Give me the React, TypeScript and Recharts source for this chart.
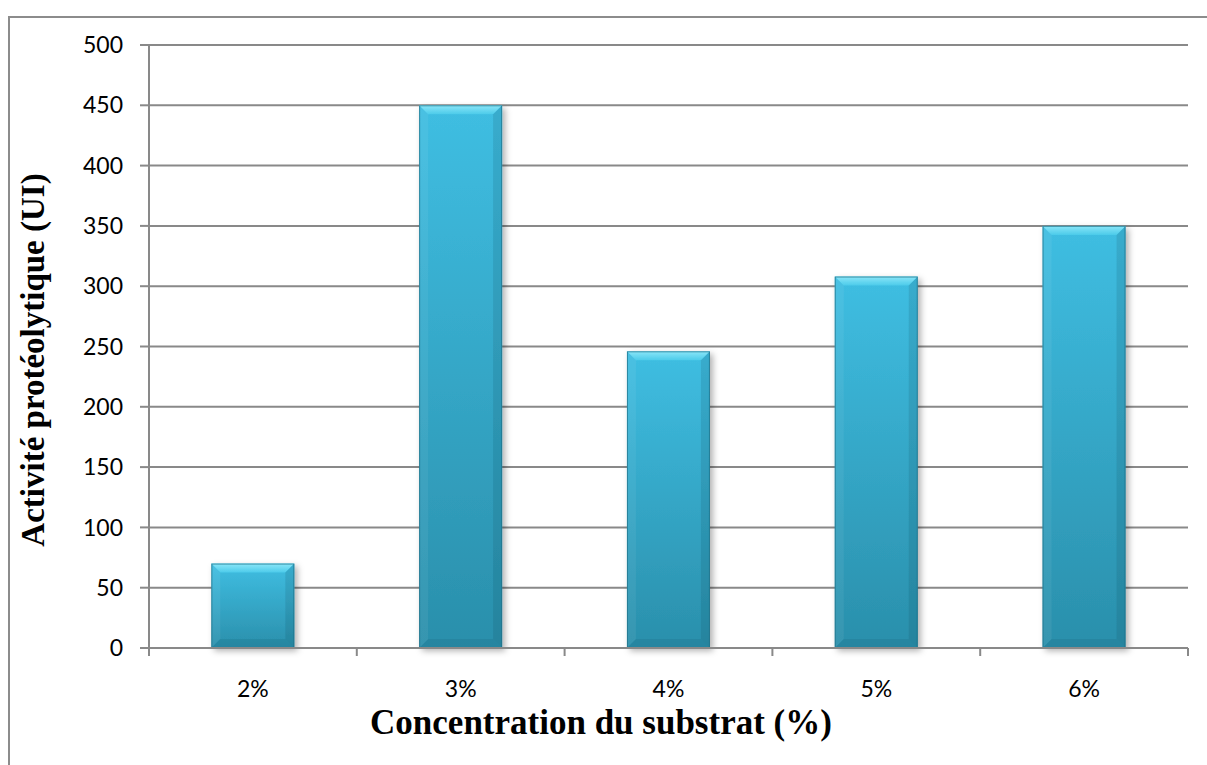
import { BarChart, Bar, XAxis, YAxis, CartesianGrid, Label } from "recharts";

const concentrations = ["2%", "3%", "4%", "5%", "6%"];
const activity = [70, 450, 246, 308, 350];
const yTicks = [0, 50, 100, 150, 200, 250, 300, 350, 400, 450, 500];

const data = concentrations.map((c, i) => ({ conc: c, activity: activity[i] }));

const W = 1207;
const H = 765;
const PLOT = { left: 149, top: 45, right: 1188, bottom: 648 };
const BAND = (PLOT.right - PLOT.left) / concentrations.length;

const GRID = "#898989";
const TICK_FONT = "Lato, 'Open Sans', sans-serif";
const TITLE_FONT = "'Liberation Serif', 'Times New Roman', serif";

// bevelled column, like the office "3-D" bar preset
function BevelBar(props: any) {
  const { x, y, width: w, height: h } = props;
  if (!h || h <= 0) return null;
  const b = Math.min(9, h / 2, w / 2);
  return (
    <g filter="url(#barShadow)">
      <rect x={x} y={y} width={w} height={h} fill="url(#barFace)" />
      <polygon
        points={`${x},${y} ${x + w},${y} ${x + w - b},${y + b} ${x + b},${y + b}`}
        fill="url(#barTop)"
      />
      <polygon
        points={`${x},${y} ${x + b},${y + b} ${x + b},${y + h - b} ${x},${y + h}`}
        fill="#ffffff"
        fillOpacity={0.06}
      />
      <polygon
        points={`${x + w},${y} ${x + w},${y + h} ${x + w - b},${y + h - b} ${x + w - b},${y + b}`}
        fill="#0b3f4f"
        fillOpacity={0.14}
      />
      <polygon
        points={`${x},${y + h} ${x + w},${y + h} ${x + w - b},${y + h - b} ${x + b},${y + h - b}`}
        fill="#0b3f4f"
        fillOpacity={0.12}
      />
      <rect x={x + 0.5} y={y + 0.5} width={w - 1} height={h - 1} fill="none" stroke="#1e6f86" strokeOpacity={0.7} />
    </g>
  );
}

function XTick(props: any) {
  const { x, y, payload, index } = props;
  const left = x - BAND / 2;
  return (
    <g>
      <line x1={left} y1={y} x2={left} y2={y + 8} stroke={GRID} strokeWidth={2} />
      {index === concentrations.length - 1 && (
        <line x1={x + BAND / 2} y1={y} x2={x + BAND / 2} y2={y + 8} stroke={GRID} strokeWidth={2} />
      )}
      <text x={x} y={y + 43} textAnchor="middle" dominantBaseline="middle" fontFamily={TICK_FONT} fontSize={23} fill="#000">
        {payload.value}
      </text>
    </g>
  );
}

export default function App() {
  return (
    <div style={{ position: "absolute", left: 0, top: 0, width: W, height: H, background: "#fff", overflow: "hidden" }}>
      <div
        style={{
          position: "absolute",
          left: 8,
          top: 16,
          width: W + 20,
          height: H + 20,
          border: "2px solid #8c8c8c",
          boxSizing: "border-box",
        }}
      />
      <BarChart
        width={W}
        height={H}
        data={data}
        margin={{ top: PLOT.top, right: W - PLOT.right, bottom: 0, left: 0 }}
        barCategoryGap="30%"
        style={{ position: "absolute", left: 0, top: 0 }}
      >
        <defs>
          <linearGradient id="barFace" x1="0" y1="0" x2="0" y2="1">
            <stop offset="0%" stopColor="#3fbee2" />
            <stop offset="100%" stopColor="#2a8fab" />
          </linearGradient>
          <linearGradient id="barTop" x1="0" y1="0" x2="0" y2="1">
            <stop offset="0%" stopColor="#8ae6f8" />
            <stop offset="100%" stopColor="#4ccbea" />
          </linearGradient>
          <filter id="barShadow" x="-20%" y="-20%" width="150%" height="150%">
            <feDropShadow dx={3} dy={3} stdDeviation={3} floodColor="#000" floodOpacity={0.3} />
          </filter>
        </defs>
        <CartesianGrid vertical={false} stroke={GRID} strokeWidth={2} />
        <XAxis
          dataKey="conc"
          height={H - PLOT.bottom}
          axisLine={{ stroke: GRID, strokeWidth: 2 }}
          tickLine={false}
          tickSize={0}
          tickMargin={0}
          tick={<XTick />}
          interval={0}
        >
          <Label
            content={() => (
              <text x={601} y={726} textAnchor="middle" dominantBaseline="middle" fontFamily={TITLE_FONT} fontWeight="bold" fontSize={35} fill="#000">
                Concentration du substrat (%)
              </text>
            )}
          />
        </XAxis>
        <YAxis
          width={PLOT.left}
          domain={[0, 500]}
          ticks={yTicks}
          interval={0}
          axisLine={{ stroke: GRID, strokeWidth: 2 }}
          tickLine={{ stroke: GRID, strokeWidth: 2 }}
          tickSize={9}
          tickMargin={17}
          tick={{ fill: "#000", fontSize: 23, fontFamily: TICK_FONT }}
        >
          <Label
            content={() => (
              <text
                x={36}
                y={360}
                transform="rotate(-90 36 360)"
                textAnchor="middle"
                dominantBaseline="middle"
                fontFamily={TITLE_FONT}
                fontWeight="bold"
                fontSize={33}
                fill="#000"
              >
                Activité protéolytique (UI)
              </text>
            )}
          />
        </YAxis>
        <Bar dataKey="activity" shape={<BevelBar />} isAnimationActive={false} />
      </BarChart>
    </div>
  );
}
